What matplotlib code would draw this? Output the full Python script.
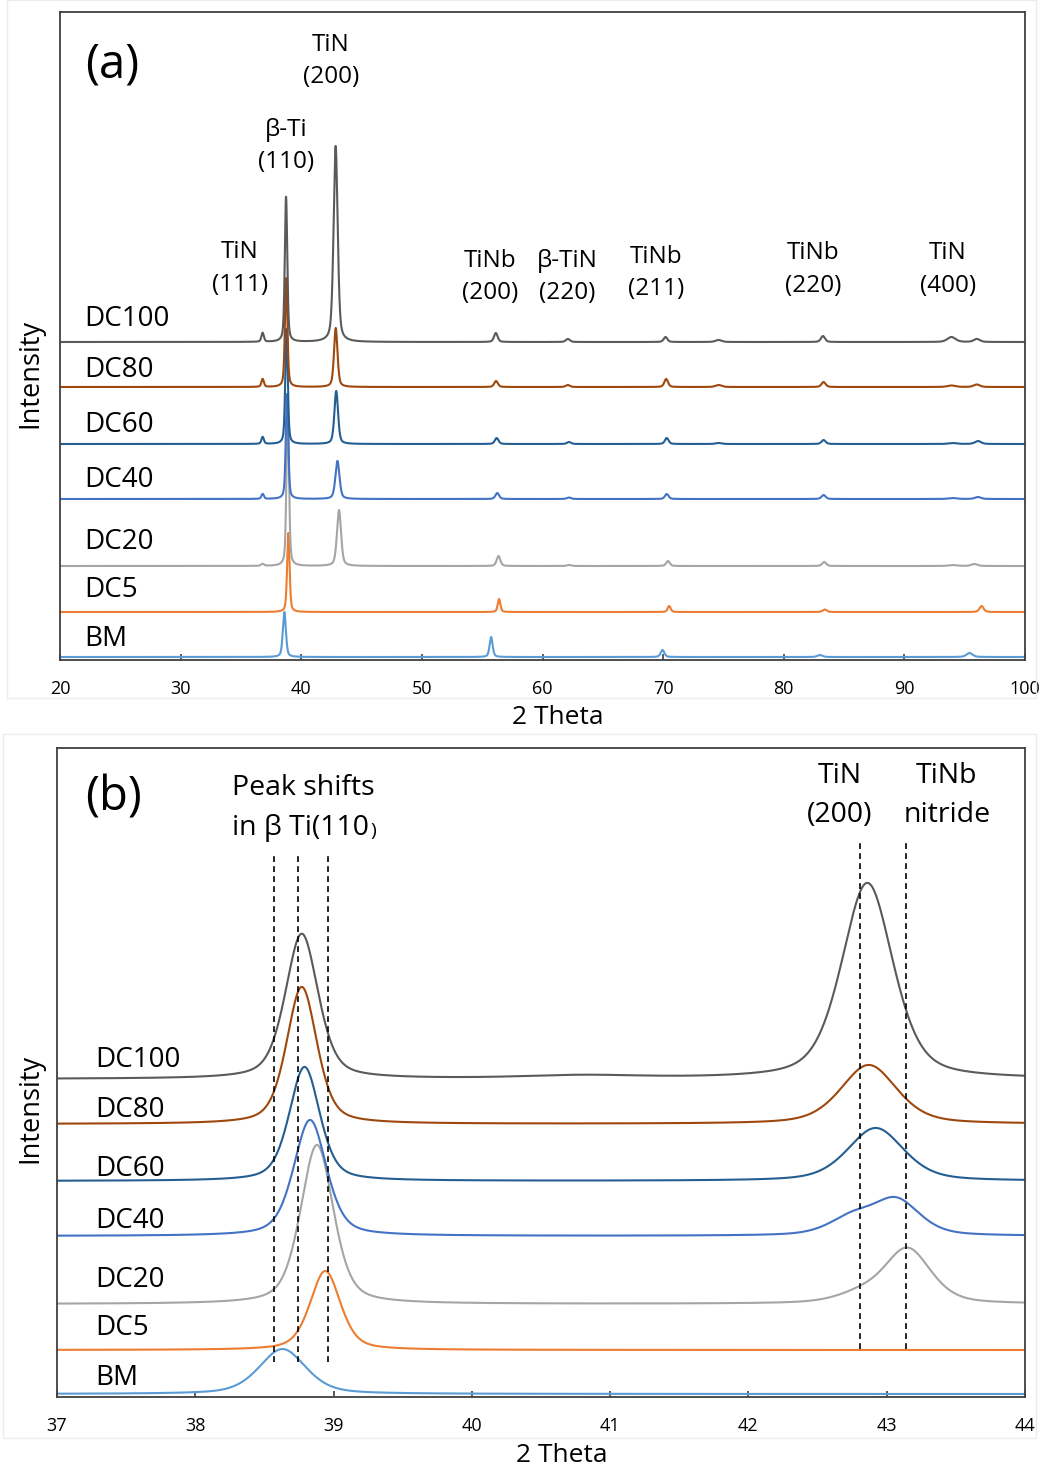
import numpy as np
import matplotlib.pyplot as plt
from matplotlib.patches import Rectangle

plt.rcParams['font.family'] = ['Open Sans', 'DejaVu Sans']

W, H = 1044, 1468

samples = ['BM', 'DC5', 'DC20', 'DC40', 'DC60', 'DC80', 'DC100']
colors = ['#5b9bd5', '#ed7d31', '#a5a5a5', '#4472c4', '#255e91', '#9e480e', '#5a5a5a']

# vertical offsets of each trace (a) and (b)
offsets_a = [3, 48, 94, 161, 216, 273, 318]
offsets_b = [3, 47, 93, 161, 216, 273, 318]

# peaks: (2theta, height, half width)
bm_a = [(38.6, 45, 0.15), (55.74, 20, 0.15), (69.95, 7, 0.18), (83.0, 2, 0.25), (95.4, 4, 0.3)]
dc5_a = [(38.93, 79, 0.12), (56.4, 13, 0.13), (70.5, 6, 0.15), (83.4, 2.5, 0.2), (96.4, 6, 0.2)]
dc20_a = [(36.8, 2, 0.15), (38.88, 165, 0.12), (43.13, 56, 0.2), (56.35, 10, 0.18), (62.2, 1, 0.2),
          (70.4, 5, 0.18), (83.35, 4, 0.2), (94.0, 1, 0.4), (95.8, 2, 0.3)]
dc40_a = [(36.8, 5, 0.12), (38.82, 105, 0.12), (43.0, 38, 0.2), (56.25, 6, 0.18), (62.2, 1.5, 0.2),
          (70.3, 5, 0.18), (83.3, 4, 0.2), (94.0, 1, 0.4), (96.1, 2, 0.3)]
dc60_a = [(36.8, 7, 0.12), (38.78, 115, 0.12), (42.9, 53, 0.18), (56.2, 6, 0.18), (62.2, 2, 0.2),
          (70.3, 6, 0.18), (74.6, 1, 0.3), (83.3, 4, 0.2), (94.0, 1, 0.4), (96.1, 3, 0.3)]
dc80_a = [(36.8, 8, 0.12), (38.75, 109, 0.12), (42.86, 59, 0.17), (56.15, 6, 0.18), (62.1, 2, 0.2),
          (70.25, 8, 0.18), (74.6, 2, 0.3), (83.3, 5, 0.2), (93.9, 1.5, 0.4), (96.0, 2.5, 0.3)]
dc100_a = [(36.8, 9, 0.12), (38.74, 145, 0.12), (42.85, 196, 0.2), (56.13, 9, 0.18), (62.1, 3, 0.2),
           (70.2, 5, 0.18), (74.6, 2, 0.3), (83.25, 6, 0.2), (93.9, 5, 0.4), (96.0, 3, 0.3)]
peaks_a = [bm_a, dc5_a, dc20_a, dc40_a, dc60_a, dc80_a, dc100_a]

# peaks
bm_b = [(38.63, 45, 0.2)]
dc5_b = [(38.94, 79, 0.13)]
dc20_b = [(38.88, 159, 0.14), (42.8, 8, 0.2), (43.15, 55, 0.2)]
dc40_b = [(38.83, 116, 0.14), (42.75, 17, 0.2), (43.07, 35, 0.2)]
dc60_b = [(38.79, 114, 0.13), (42.92, 53, 0.24)]
dc80_b = [(38.77, 137, 0.13), (42.87, 59, 0.24)]
dc100_b = [(38.77, 145, 0.14), (42.86, 196, 0.22), (40.8, 3, 0.5)]
peaks_b = [bm_b, dc5_b, dc20_b, dc40_b, dc60_b, dc80_b, dc100_b]

labels_a = [('TiN', '(111)', 240, 252, 285), ('β-Ti', '(110)', 286, 130, 162),
            ('TiN', '(200)', 331, 45, 77), ('TiNb', '(200)', 490, 261, 293),
            ('β-TiN', '(220)', 567, 261, 293), ('TiNb', '(211)', 656, 257, 289),
            ('TiNb', '(220)', 813, 253, 286), ('TiN', '(400)', 948, 253, 286)]
name_y_a = [639, 590, 542, 480, 425, 370, 319]
name_y_b = [1378, 1328, 1280, 1221, 1169, 1110, 1060]

shift_lines = [38.57, 38.74, 38.96]
nitride_lines = [42.81, 43.14]


def profile(x, peaks):
    y = np.zeros_like(x)
    for c, h, w in peaks:
        d = ((x - c) / w) ** 2
        y += h * (0.45 / (1 + d) + 0.55 * np.exp(-np.log(2) * d))
    return y


def ftext(x, y, s, size, ha='center', **kw):
    fig.text(x / W, 1 - y / H, s, fontsize=size, ha=ha, va='center', **kw)


def make_axes(l, r, t, b):
    ax = fig.add_axes([l / W, 1 - b / H, (r - l) / W, (b - t) / H])
    for sp in ax.spines.values():
        sp.set_color('#404040')
        sp.set_linewidth(1.3)
    ax.set_yticks([])
    ax.tick_params(axis='x', direction='in', length=4, width=1.2, color='#404040',
                   labelsize=13, pad=14.5)
    return ax


fig = plt.figure(figsize=(W / 100, H / 100), dpi=100)

# faint panel frames
for (l, t, r, b) in [(7, 0, 1036, 698), (3, 734, 1036, 1438)]:
    fig.patches.append(Rectangle((l / W, 1 - b / H), (r - l) / W, (b - t) / H,
                                 transform=fig.transFigure, fill=False, ec='#ececec', lw=1))

# panel (a)
ax1 = make_axes(60, 1025, 12, 660)
xa = np.linspace(20, 100, 8001)
for pk, off, c in zip(peaks_a, offsets_a, colors):
    ax1.plot(xa, off + profile(xa, pk), color=c, lw=1.5)
ax1.set_xlim(20, 100)
ax1.set_ylim(0, 648)
ax1.set_xticks(range(20, 101, 10))

ftext(85, 65, '(a)', 34, ha='left')
for top, bot, x, y1, y2 in labels_a:
    ftext(x, y1, top, 17.5)
    ftext(x, y2, bot, 17.5)
for name, y in zip(samples, name_y_a):
    ftext(84, y, name, 20, ha='left')
ftext(558, 717, '2 Theta', 19)
ftext(30, 373, 'Intensity', 19.5, rotation=90)

# panel (b)
ax2 = make_axes(57, 1025, 748, 1397)
xb = np.linspace(37, 44, 2801)
for pk, off, c in zip(peaks_b, offsets_b, colors):
    ax2.plot(xb, off + profile(xb, pk), color=c, lw=1.5)
ax2.set_xlim(37, 44)
ax2.set_ylim(0, 649)
ax2.set_xticks(range(37, 45))
for xv in shift_lines:
    ax2.plot([xv, xv], [35, 542], color='black', lw=1.2, ls=(0, (3.5, 2.5)))
for xv in nitride_lines:
    ax2.plot([xv, xv], [48, 554], color='black', lw=1.2, ls=(0, (3.5, 2.5)))

ftext(85, 798, '(b)', 34, ha='left')
ftext(232, 788, 'Peak shifts', 20.5, ha='left')
ftext(232, 828, 'in β Ti(110', 20.5, ha='left')
ftext(370, 831, ')', 14, ha='left')
ftext(840, 776, 'TiN', 20.5)
ftext(840, 815, '(200)', 20.5)
ftext(947, 776, 'TiNb', 20.5)
ftext(947, 815, 'nitride', 20.5)
for name, y in zip(samples, name_y_b):
    ftext(95, y, name, 20, ha='left')
ftext(562, 1455, '2 Theta', 19)
ftext(30, 1108, 'Intensity', 19.5, rotation=90)

fig.savefig('out.png', dpi=100)
